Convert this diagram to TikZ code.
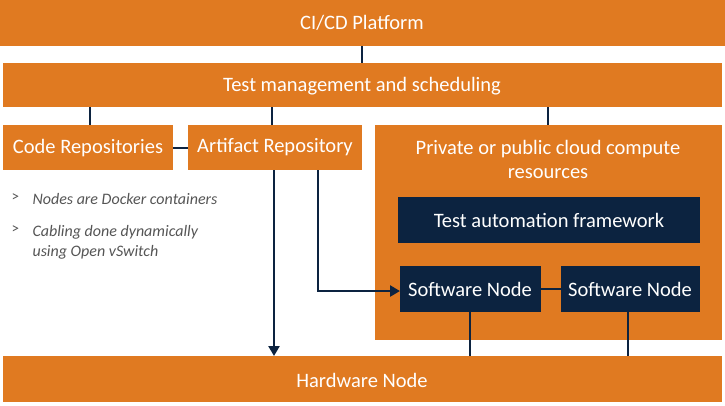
\documentclass[tikz,border=0pt]{standalone}
\usepackage{fontspec}
\setmainfont{Carlito}
\usetikzlibrary{arrows.meta}
\definecolor{org}{HTML}{E07A21}
\definecolor{nav}{HTML}{0C2340}
\definecolor{gtx}{HTML}{555555}
\begin{document}
\begin{tikzpicture}[x=1pt,y=-1pt,
 tx/.style={text=white,font=\fontsize{20.5}{24}\selectfont},
 ln/.style={draw=nav,line width=2.6pt},
 ar/.style={ln,-{Triangle[length=10pt,width=11pt]}},
 bl/.style={text=gtx,font=\fontsize{16}{20}\selectfont\itshape,anchor=north west,align=left},
 bm/.style={text=gtx,font=\fontsize{15}{20}\selectfont,anchor=north west}]
\useasboundingbox (0,0) rectangle (725,405);
\path[fill=org] (0,0) rectangle (725,46);
\node[tx] (ci) at (362,23) {CI/CD Platform};
\path[fill=org] (3,63) rectangle (722,107);
\node[tx] (tm) at (362,86) {Test management and scheduling};
\path[fill=org] (3,125) rectangle (173,170);
\node[tx] (cr) at (88,148) {Code Repositories};
\path[fill=org] (188,125) rectangle (362,170);
\node[tx] (arp) at (275,147) {Artifact Repository};
\path[fill=org] (375,125) rectangle (722,340);
\node[tx,align=center] (pc) at (548,159) {Private or public cloud compute\\resources};
\path[fill=nav] (398,197) rectangle (700,243);
\node[tx] (ta) at (549,220) {Test automation framework};
\path[fill=nav] (400,266) rectangle (541,312);
\node[tx] (s1) at (470,289) {Software Node};
\path[fill=nav] (561,266) rectangle (700,312);
\node[tx] (s2) at (630,289) {Software Node};
\path[fill=org] (3,356) rectangle (722,402);
\node[tx] (hw) at (362,380) {Hardware Node};
% connectors
\draw[ln] (362,46) -- (362,63);
\draw[ln] (90,107) -- (90,125);
\draw[ln] (272,107) -- (272,125);
\draw[ln] (548,107) -- (548,125);
\draw[ln] (173,148) -- (188,148);
\draw[ar] (274,170) -- (274,356);
\draw[ar] (318,170) -- (318,291) -- (400,291);
\draw[ln] (541,289) -- (561,289);
\draw[ln] (470,312) -- (470,356);
\draw[ln] (628,312) -- (628,356);
% bullets
\node[bm] (b1m) at (8,190) {>};
\node[bl] (b1) at (29,190) {Nodes are Docker containers};
\node[bm] (b2m) at (8,222) {>};
\node[bl] (b2) at (29,222) {Cabling done dynamically\\using Open vSwitch};
\end{tikzpicture}
\end{document}
